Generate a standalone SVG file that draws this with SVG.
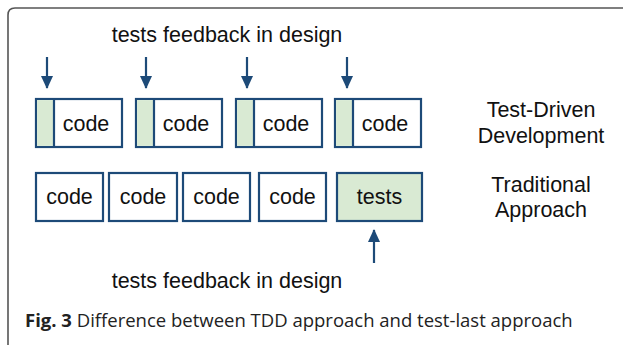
<svg xmlns="http://www.w3.org/2000/svg" width="623" height="345" viewBox="0 0 623 345">
<style>
.box{fill:#fff;stroke:#1d4a78;stroke-width:2.2}
.gbox{fill:#d9ead3;stroke:#1d4a78;stroke-width:2.2}
.g{fill:#d9ead3;stroke:none}
.sep{stroke:#1d4a78;stroke-width:2.2}
.t{font-family:"Liberation Sans",Arial,sans-serif;font-size:21.5px;fill:#111;text-anchor:middle}
.arr{stroke:#1d4a78;stroke-width:2.2;fill:none}
.cap{font-family:"Open Sans","Noto Sans",sans-serif;font-size:18.5px;fill:#222}
</style>
<defs>
<marker id="ah" viewBox="0 0 13 12" refX="12" refY="6" markerWidth="13" markerHeight="12" markerUnits="userSpaceOnUse" orient="auto">
<path d="M0,0 L13,6 L0,12 z" fill="#1d4a78"/>
</marker>
</defs>
<rect width="623" height="345" fill="#fff"/>
<path d="M8,345 L8,15 Q8,8 15,8 L623,8" fill="none" stroke="#555" stroke-width="1.6"/>
<text class="t" x="227" y="42">tests feedback in design</text>
<g id="tdd1"><rect class="box" x="36" y="99" width="86" height="48"/><rect class="g" x="37.1" y="100.1" width="16.9" height="45.8"/><line class="sep" x1="54" y1="99" x2="54" y2="147"/><text class="t" x="86" y="131">code</text></g>
<g id="tdd2"><rect class="box" x="136" y="99" width="86" height="48"/><rect class="g" x="137.1" y="100.1" width="16.9" height="45.8"/><line class="sep" x1="154" y1="99" x2="154" y2="147"/><text class="t" x="186" y="131">code</text></g>
<g id="tdd3"><rect class="box" x="236" y="99" width="86" height="48"/><rect class="g" x="237.1" y="100.1" width="16.9" height="45.8"/><line class="sep" x1="254" y1="99" x2="254" y2="147"/><text class="t" x="286" y="131">code</text></g>
<g id="tdd4"><rect class="box" x="335" y="99" width="86" height="48"/><rect class="g" x="336.1" y="100.1" width="16.9" height="45.8"/><line class="sep" x1="353" y1="99" x2="353" y2="147"/><text class="t" x="385" y="131">code</text></g>
<g id="tdd-label"><text class="t" x="541" y="117">Test-Driven</text><text class="t" x="541" y="143">Development</text></g>
<g id="trad1"><rect class="box" x="36" y="173" width="67" height="48"/><text class="t" x="69.5" y="204">code</text></g>
<g id="trad2"><rect class="box" x="109" y="173" width="68" height="48"/><text class="t" x="143" y="204">code</text></g>
<g id="trad3"><rect class="box" x="183" y="173" width="67" height="48"/><text class="t" x="216.5" y="204">code</text></g>
<g id="trad4"><rect class="box" x="259" y="173" width="67" height="48"/><text class="t" x="292.5" y="204">code</text></g>
<g id="tests"><rect class="gbox" x="337" y="173" width="85" height="48"/><text class="t" x="379.5" y="204">tests</text></g>
<g id="trad-label"><text class="t" x="541" y="192">Traditional</text><text class="t" x="541" y="217">Approach</text></g>
<text class="t" x="227" y="288">tests feedback in design</text>
<g id="connectors">
<line class="arr" x1="47" y1="57" x2="47" y2="88" marker-end="url(#ah)"/>
<line class="arr" x1="146" y1="57" x2="146" y2="88" marker-end="url(#ah)"/>
<line class="arr" x1="247" y1="57" x2="247" y2="88" marker-end="url(#ah)"/>
<line class="arr" x1="347" y1="57" x2="347" y2="88" marker-end="url(#ah)"/>
<line class="arr" x1="374" y1="263" x2="374" y2="230" marker-end="url(#ah)"/>
</g>
<text class="cap" x="25" y="327"><tspan font-weight="bold">Fig. 3</tspan> Difference between TDD approach and test-last approach</text>
</svg>
